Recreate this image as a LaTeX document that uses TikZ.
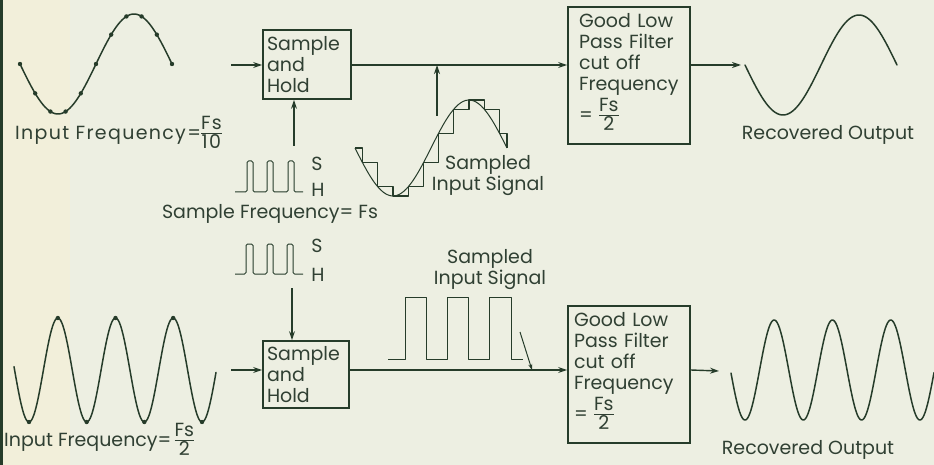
\documentclass[tikz,border=0pt]{standalone}
\usepackage{fontspec}
\setmainfont{Poppins}
\usetikzlibrary{arrows.meta}
\definecolor{bg}{RGB}{237,239,226}
\definecolor{tint}{RGB}{242,239,218}
\definecolor{ink}{RGB}{38,60,42}
\definecolor{txt}{RGB}{48,64,51}
\setlength{\arrayrulewidth}{1pt}
\newcommand{\fr}[2]{\begin{tabular}{@{}c@{}}#1\\[-3pt]\hline\rule{0pt}{15pt}#2\end{tabular}}
\begin{document}
\begin{tikzpicture}[x=1pt,y=-1pt,
  lbl/.style={font=\fontsize{19}{21}\selectfont, text=txt, inner sep=0pt},
  box/.style={draw=ink, line width=1.8pt, inner sep=0pt, text=txt, font=\fontsize{19}{21}\selectfont, align=left},
  wire/.style={draw=ink, line width=1.4pt},
  arr/.style={wire, -{Stealth[length=9pt,width=6pt]}},
  wave/.style={draw=ink, line width=1.5pt, line cap=round, line join=round},
  thinw/.style={draw=ink, line width=1pt, line join=round}]
\useasboundingbox (0,0) rectangle (934,465);
\fill[bg] (0,0) rectangle (934,465);
\fill[tint] (3,0) rectangle (70,465);
\fill[ink] (0,0) rectangle (2.5,465);

% ---------------- top row ----------------
\draw[wave] plot[domain=20:172,samples=80,smooth] (\x,{64+50*sin((\x-20)/152*360)});
\foreach \k in {0,...,10} \fill[ink] ({20+15.2*\k},{64+50*sin(36*\k)}) circle (2.2);
\node[lbl, anchor=west] (inf1) at (15,135) {\addfontfeature{LetterSpace=7}Input Frequency=\fr{Fs}{10}};

\node[box, minimum width=88pt, minimum height=69pt, text width=80pt] (sh1) at (307,64.5) {Sample\\and\\Hold};
\coordinate (in1) at (231,65);
\draw[arr] (in1) -- (in1 -| sh1.west);

\node[box, minimum width=122pt, minimum height=137pt, text width=100pt] (lpf1) at (629,75.5) {Good Low\\Pass Filter\\cut off\\Frequency\\= \fr{Fs}{2}};
\draw[arr] (sh1.east |- in1) -- (lpf1.west |- in1);
\coordinate (out1) at (741,65);
\draw[arr] (lpf1.east |- in1) -- (out1);
\draw[wave] plot[domain=745:897,samples=80,smooth] (\x,{65+50*sin((\x-745)/152*360)});
\node[lbl] (rec1) at (828,135) {Recovered Output};

\draw[thinw, rounded corners=1.5pt] (235,192) -- (247,192) -- (247,161) -- (253,161) -- (253,192) -- (267,192) -- (267,161) -- (273,161) -- (273,192) -- (288,192) -- (288,161) -- (294,161) -- (294,192) -- (303,192);
\node[lbl] (s1) at (317,164) {S};
\node[lbl] (h1) at (318,190) {H};
\coordinate (c1) at (294,146);
\draw[arr] (c1) -- (c1 |- sh1.south);
\node[lbl] (sf) at (270,214) {Sample Frequency= Fs};

\draw[thinw] plot[domain=355:507,samples=60,smooth] (\x,{148+48*sin((\x-355)/152*360)});
\draw[wave, line width=1.3pt, line cap=butt] (355,148) -- (362.6,148) -- (362.6,162.8) -- (377.8,162.8) -- (377.8,186.8) -- (393,186.8) -- (393,196) -- (408.2,196) -- (408.2,186.8) -- (423.4,186.8) -- (423.4,162.8) -- (438.6,162.8) -- (438.6,133.2) -- (453.8,133.2) -- (453.8,109.2) -- (469,109.2) -- (469,100) -- (484.2,100) -- (484.2,109.2) -- (499.4,109.2) -- (499.4,133.2) -- (507,133.2) -- (507,148);
\coordinate (ss1) at (437,116);
\draw[arr] (ss1) -- (ss1 |- in1);
\node[lbl, align=center] (sis1) at (488,176) {Sampled\\Input Signal};

% ---------------- bottom row ----------------
\draw[wave] plot[domain=14:216,samples=240,smooth] (\x,{370+52*cos((\x-29)/57.67*360)});
\foreach \k in {0,...,6} \fill[ink] ({29+28.833*\k},{370+52*cos(180*\k)}) circle (2.2);
\node[lbl, anchor=west] (inf2) at (4,442) {Input Frequency=\,\fr{Fs}{2}};

\draw[thinw, rounded corners=1.5pt] (235,274) -- (246,274) -- (246,244) -- (253,244) -- (253,274) -- (267,274) -- (267,244) -- (273,244) -- (273,274) -- (287,274) -- (287,244) -- (293,244) -- (293,274) -- (303,274);
\node[lbl] (s2) at (317,246) {S};
\node[lbl] (h2) at (318,275) {H};

\node[box, minimum width=86pt, minimum height=67pt, text width=78pt] (sh2) at (306,374.5) {Sample\\and\\Hold};
\coordinate (c2) at (292,288);
\draw[arr] (c2) -- (c2 |- sh2.north);
\coordinate (in2) at (231,370);
\draw[arr] (in2) -- (in2 -| sh2.west);

\node[box, minimum width=122pt, minimum height=137pt, text width=110pt] (lpf2) at (629,374.5) {Good Low\\Pass Filter\\cut off\\Frequency\\= \fr{Fs}{2}};
\draw[arr] (sh2.east |- in2) -- (lpf2.west |- in2);

\draw[thinw] (388,359) -- (405,359) -- (405,297) -- (426,297) -- (426,359) -- (447,359) -- (447,297) -- (468,297) -- (468,359) -- (489,359) -- (489,297) -- (511,297) -- (511,359) -- (523,359);
\coordinate (p2) at (520,332);
\coordinate (p2e) at (532,370);
\draw[thinw, -{Stealth[length=6pt,width=4pt]}] (p2) -- (p2e);
\node[lbl, align=center] (sis2) at (490,270) {Sampled\\Input Signal};

\coordinate (out2) at (719,371);
\draw[arr] (lpf2.east |- in2) -- (out2);
\draw[wave] plot[domain=731:934,samples=240,smooth] (\x,{370+50*cos((\x-745)/58.3*360)});
\node[lbl] (rec2) at (808,450) {Recovered Output};
\end{tikzpicture}
\end{document}
